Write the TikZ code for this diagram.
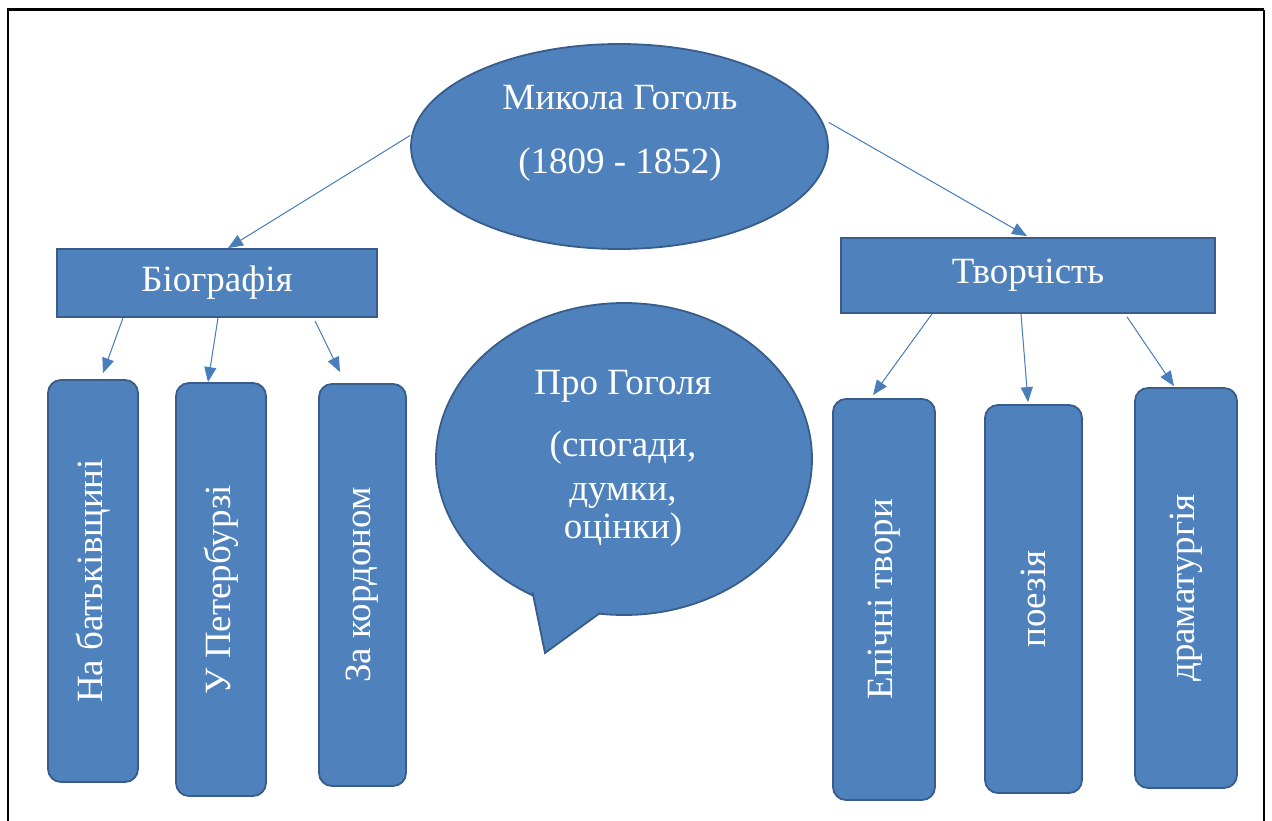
\documentclass[tikz,border=0pt]{standalone}
\usepackage{fontspec}
\usepackage{graphicx}
\setmainfont{Liberation Serif}
\usetikzlibrary{shapes.geometric,arrows.meta}
\definecolor{boxfill}{HTML}{4F81BD}
\definecolor{boxline}{HTML}{385D8A}
\definecolor{arrowcol}{HTML}{4A7EBB}
\newcommand{\bigfont}{\fontsize{37}{38}\selectfont}
\tikzset{
  boxstyle/.style={draw=boxline, fill=boxfill, line width=1.8pt, text=white, inner sep=0pt, font=\bigfont},
  rectbox/.style={boxstyle, rectangle},
  tallbox/.style={boxstyle, rectangle, rounded corners=13pt},
  ovalbox/.style={boxstyle, ellipse},
  txt/.style={text=white, align=center, font=\bigfont},
  conn/.style={draw=arrowcol, line width=1pt, -{Triangle[length=15pt,width=12pt]}, fill=arrowcol},
}
\begin{document}
\begin{tikzpicture}[x=1pt, y=-1pt]
\useasboundingbox (0,0) rectangle (1272,821);
% outer frame
\draw[line width=2.6pt] (7.8,821) -- (7.8,9.7) -- (1264.3,9.7);
\draw[line width=2pt] (1264.3,9.7) -- (1264.3,821);

% main ellipse
\node[ovalbox, minimum width=417pt, minimum height=205pt] (gog) at (619.5,146.5) {};
\node[txt] (gogtxt) at (620,133) {Микола Гоголь\\[26pt](1809 - 1852)};

% category boxes
\node[rectbox, minimum width=320pt, minimum height=68pt] (bio) at (217,283) {Біографія};
\node[rectbox, minimum width=374pt, minimum height=75pt] (tv) at (1028,275.5) {Творчість};

% tall boxes left
\node[tallbox, minimum width=90pt, minimum height=402pt] (nb) at (93,581) {\rotatebox{90}{На батьківщині}};
\node[tallbox, minimum width=90pt, minimum height=413pt] (pet) at (221,589.5) {\rotatebox{90}{У Петербурзі}};
\node[tallbox, minimum width=87pt, minimum height=402pt] (kor) at (362.5,585) {\rotatebox{90}{За кордоном}};

% tall boxes right
\node[tallbox, minimum width=102pt, minimum height=401pt] (ep) at (884,599.5) {\rotatebox{90}{Епічні твори}};
\node[tallbox, minimum width=97pt, minimum height=388pt] (poe) at (1033.5,599) {\rotatebox{90}{поезія}};
\node[tallbox, minimum width=102pt, minimum height=400pt] (dr) at (1186,588) {\rotatebox{90}{драматургія}};

% speech bubble
\node[ovalbox, minimum width=376pt, minimum height=312pt] (pro) at (624,459) {};
\fill[boxfill] (532,593) -- (545,653) -- (600,613) -- (624,470) -- cycle;
\draw[boxline, line width=1.8pt, line join=miter] (532.5,592) -- (545,653) -- (600,613);
\node[txt] (protxt) at (623,458) {Про Гоголя\\[24pt](спогади,\\[6pt]думки,\\оцінки)};

% connectors
\draw[conn] ([yshift=11pt]gog.west) -- ([xshift=11pt]bio.north);
\draw[conn] ([yshift=24pt]gog.east) -- ([xshift=-1pt,yshift=1pt]tv.north);

\draw[conn] ([xshift=-94pt]bio.south) -- ([xshift=10pt,yshift=6pt]nb.north);
\draw[conn] ([xshift=1pt]bio.south) -- ([xshift=-13pt,yshift=0pt]pet.north);
\draw[conn] ([xshift=98pt,yshift=-3pt]bio.south) -- ([xshift=-22.5pt,yshift=11pt]kor.north);

\draw[conn] ([xshift=-96pt]tv.south) -- ([xshift=-11pt,yshift=3pt]ep.north);
\draw[conn] ([xshift=-7pt]tv.south) -- ([xshift=-5.5pt,yshift=2pt]poe.north);
\draw[conn] ([xshift=99pt,yshift=-3pt]tv.south) -- ([xshift=-12pt,yshift=1pt]dr.north);
\end{tikzpicture}
\end{document}
